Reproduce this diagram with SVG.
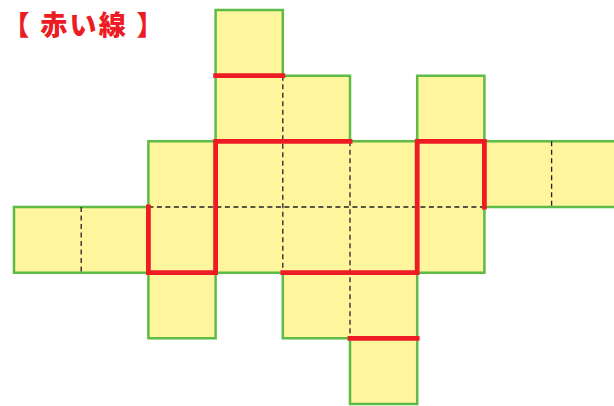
<svg xmlns="http://www.w3.org/2000/svg" width="614" height="406" viewBox="0 0 614 406">
<style>
.cell{fill:#FFF59D;stroke:none}
.outline{fill:none;stroke:#5DBB46;stroke-width:2.5;stroke-linejoin:miter}
.fold{fill:none;stroke:#222;stroke-width:1.3;stroke-dasharray:5 3.5}
.cut{fill:none;stroke:#ED1C24;stroke-width:4.8;stroke-linecap:square;stroke-linejoin:miter}
.title{font-family:"Noto Sans CJK JP","Noto Sans",sans-serif;font-weight:900;font-size:27px;fill:#ED1C24}
</style>
<rect width="614" height="406" fill="#fff"/>
<g id="title"><text class="title" x="2.5" y="35" textLength="161" lengthAdjust="spacing">【 赤い線 】</text></g>
<g id="net">
<g id="cells">
<rect class="cell" x="215.6" y="10" width="67.2" height="65.7"/>
<rect class="cell" x="215.6" y="75.7" width="134.4" height="65.6"/>
<rect class="cell" x="417.2" y="75.7" width="67.2" height="65.6"/>
<rect class="cell" x="148.4" y="141.3" width="470.4" height="65.7"/>
<rect class="cell" x="14" y="207" width="403.2" height="65.7"/>
<rect class="cell" x="416" y="207" width="68.4" height="65.7"/>
<rect class="cell" x="148.4" y="272" width="67.2" height="66.3"/>
<rect class="cell" x="282.8" y="272" width="134.4" height="66.3"/>
<rect class="cell" x="350" y="338" width="67.2" height="66"/>
</g>
<path id="outline" class="outline" d="M215.6,10 H282.8 V75.7 H350 V141.3 H417.2 V75.7 H484.4 V141.3 H618.8 V207 H484.4 V272.7 H417.2 V404 H350 V338.3 H282.8 V272.7 H215.6 V338.3 H148.4 V272.7 H14 V207 H148.4 V141.3 H215.6 Z"/>
</g>
<g id="connectors">
<g id="folds">
<path class="fold" d="M282.8,75.7 V272.7"/>
<path class="fold" d="M350,141.3 V338.3"/>
<path class="fold" d="M81.2,207 V272.7"/>
<path class="fold" d="M551.6,141.3 V207"/>
<path class="fold" d="M148.4,207 H484.4"/>
</g>
<g id="cuts">
<path class="cut" d="M215.6,75.7 H282.8"/>
<path class="cut" d="M148.4,207 V272.7 H215.6 V141.3 H350"/>
<path class="cut" d="M282.8,272.7 H417.2 V141.3 H484.4 V207"/>
<path class="cut" d="M350,338.3 H417.2"/>
</g>
</g>
</svg>
